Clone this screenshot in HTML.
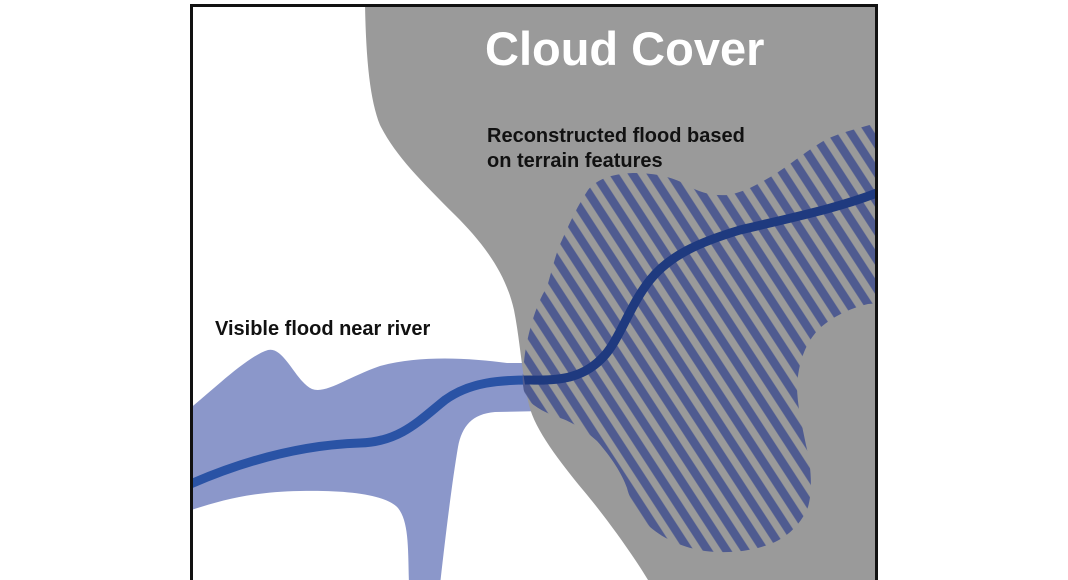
<!DOCTYPE html>
<html>
<head>
<meta charset="utf-8">
<style>
  html, body { margin: 0; padding: 0; background: #ffffff; }
  body { width: 1068px; height: 580px; overflow: hidden; }
  svg { display: block; }
  text { font-family: "Liberation Sans", "DejaVu Sans", sans-serif; font-weight: bold; }
</style>
</head>
<body>
<svg width="1068" height="580" viewBox="0 0 1068 580" xmlns="http://www.w3.org/2000/svg">
  <defs>
    <clipPath id="box">
      <rect x="192" y="6" width="684" height="580"/>
    </clipPath>
    <clipPath id="cloudClip">
      <path d="M 365 4 L 878 4 L 878 580 L 648 580 C 630 550, 600 510, 583 490 C 560 462, 535 430, 529 405 C 522 375, 520 340, 514 310 C 505 270, 480 240, 455 215 C 420 180, 395 155, 380 125 C 370 100, 366 60, 365 4 Z"/>
    </clipPath>
    <clipPath id="hatchClip">
      <path d="M 524 362 C 526 340, 535 305, 547 287 C 552 270, 556 252, 562 240 C 570 222, 578 205, 588 190 C 596 180, 610 174, 633 173 C 655 173, 672 177, 685 184 C 700 193, 712 196, 728 195 C 745 192, 758 184, 772 176 C 790 165, 810 148, 827 139 C 842 132, 860 128, 880 122 L 880 303 L 868 304 C 850 308, 830 318, 818 330 C 806 343, 799 360, 797 385 C 797 405, 802 425, 806 445 C 811 465, 813 490, 808 507 C 802 522, 790 535, 775 542 C 755 551, 730 554, 705 551 C 685 548, 665 540, 650 527 C 638 515, 630 500, 627 488 C 622 474, 612 458, 597 441 C 585 430, 570 421, 560 418 C 548 414, 535 408, 526 398 C 522 388, 522 374, 524 362 Z"/>
    </clipPath>
    <pattern id="stripes" patternUnits="userSpaceOnUse" width="15.8" height="40" patternTransform="rotate(-33)">
      <rect x="5.1" y="0" width="8.4" height="40" fill="#4f5b90"/>
    </pattern>
  </defs>

  <g clip-path="url(#box)">
    <!-- visible flood -->
    <path d="M 188 410 C 215 388, 248 356, 268 350 C 284 346, 296 382, 312 389 C 326 394, 346 378, 380 366 C 420 355, 470 358, 507 363 L 545 363 L 545 411 L 495 412 C 472 414, 462 426, 458 447 C 452 482, 445 540, 440 585 L 409 585 C 408 548, 409 522, 398 508 C 386 495, 350 490, 300 491 C 250 492, 222 500, 188 511 Z" fill="#8b97ca"/>

    <!-- river (visible part) -->
    <path d="M 186 486 C 240 462, 300 445, 360 443 C 400 442, 420 420, 445 400 C 470 382, 500 380, 530 380 C 560 381, 585 378, 605 355 C 620 338, 630 305, 650 280 C 670 255, 700 242, 740 230 C 790 218, 840 208, 882 191" fill="none" stroke="#2a53a5" stroke-width="9" stroke-linecap="round"/>

    <!-- cloud cover -->
    <path d="M 365 4 L 878 4 L 878 580 L 648 580 C 630 550, 600 510, 583 490 C 560 462, 535 430, 529 405 C 522 375, 520 340, 514 310 C 505 270, 480 240, 455 215 C 420 180, 395 155, 380 125 C 370 100, 366 60, 365 4 Z" fill="#9a9a9a"/>

    <!-- hatched reconstructed flood -->
    <rect x="500" y="100" width="390" height="470" fill="url(#stripes)" clip-path="url(#hatchClip)"/>

    <!-- river under cloud (darker) -->
    <g clip-path="url(#cloudClip)">
      <path d="M 186 486 C 240 462, 300 445, 360 443 C 400 442, 420 420, 445 400 C 470 382, 500 380, 530 380 C 560 381, 585 378, 605 355 C 620 338, 630 305, 650 280 C 670 255, 700 242, 740 230 C 790 218, 840 208, 882 191" fill="none" stroke="#1f3a7f" stroke-width="9" stroke-linecap="round"/>
    </g>

    <!-- labels -->
    <text x="485" y="65" font-size="47" fill="#ffffff">Cloud Cover</text>
    <text x="487" y="142" font-size="20" fill="#111111">Reconstructed flood based</text>
    <text x="487" y="167" font-size="20" fill="#111111">on terrain features</text>
    <text x="215" y="335" font-size="20" fill="#111111">Visible flood near river</text>
  </g>

  <!-- frame -->
  <rect x="191.5" y="5.5" width="685" height="600" fill="none" stroke="#111111" stroke-width="3"/>
</svg>
</body>
</html>
